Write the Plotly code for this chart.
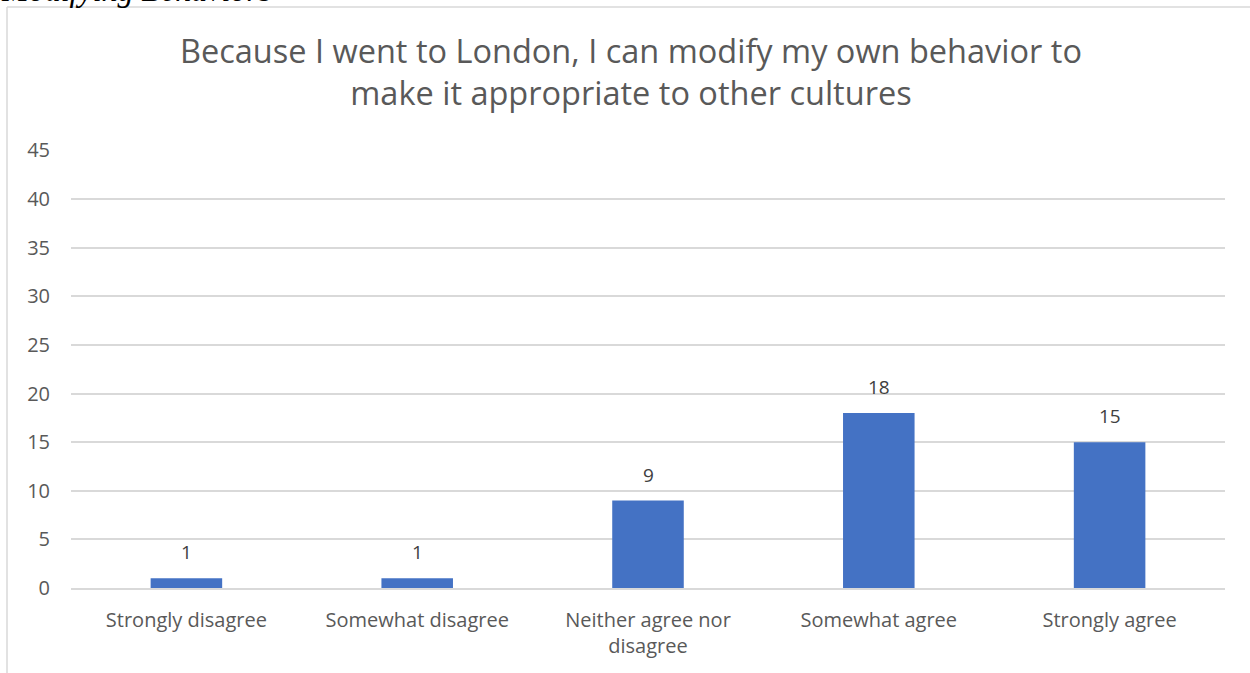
import plotly.graph_objects as go

categories = ["Strongly disagree", "Somewhat disagree", "Neither agree nor<br>disagree",
              "Somewhat agree", "Strongly agree"]
counts = [1, 1, 9, 18, 15]
y_ticks = [0, 5, 10, 15, 20, 25, 30, 35, 40, 45]

title_text = ("Because I went to London, I can modify my own behavior to<br>"
              "make it appropriate to other cultures")

W, H = 1250, 673
L, R, T, B = 71, 25, 150, 85
pw, ph = W - L - R, H - T - B

GREY = "#595959"
FONT = "Open Sans"


def px_x(p):
    return (p - L) / pw


def px_y(p):
    return (H - B - p) / ph


fig = go.Figure(go.Bar(
    x=categories, y=counts,
    marker=dict(color="#4472C4", line=dict(width=0)),
    width=0.31,
    hoverinfo="x+y",
))

# value labels above each bar
value_labels = [
    dict(x=c, y=v, text=str(v), xref="x", yref="y", showarrow=False,
         yanchor="bottom", yshift=11,
         font=dict(family=FONT, size=19, color="#404040"))
    for c, v in zip(categories, counts)
]

fig.update_layout(
    width=W, height=H,
    margin=dict(l=L, r=R, t=T, b=B),
    paper_bgcolor="white", plot_bgcolor="white",
    showlegend=False,
    xaxis=dict(showgrid=False, showline=True, linecolor="#d9d9d9", linewidth=1.5,
               ticks="", tickfont=dict(family=FONT, size=20, color=GREY),
               ticklabelstandoff=13),
    yaxis=dict(range=[0, 45.05], tickvals=y_ticks, showgrid=True, gridcolor="#d9d9d9",
               gridwidth=1.5, zeroline=False, showline=False, ticks="",
               tickfont=dict(family=FONT, size=20, color=GREY),
               ticklabelstandoff=20),
    bargap=0.69,
    shapes=[
        dict(type="line", xref="paper", yref="paper", x0=px_x(7), x1=px_x(1260),
             y0=px_y(7), y1=px_y(7), line=dict(color="#d9d9d9", width=1.5)),
        dict(type="line", xref="paper", yref="paper", x0=px_x(7), x1=px_x(7),
             y0=px_y(7), y1=px_y(690), line=dict(color="#d9d9d9", width=1.5)),
    ],
    annotations=value_labels + [
        dict(text=title_text, xref="paper", yref="paper",
             x=px_x(631), y=px_y(26), xanchor="center", yanchor="top", showarrow=False,
             font=dict(family=FONT, size=32.5, color=GREY)),
        dict(text="<i>Modifying Behaviors</i>", xref="paper", yref="paper",
             x=px_x(273), y=px_y(10), xanchor="right", yanchor="bottom", showarrow=False,
             font=dict(family="Liberation Serif", size=32, color="black")),
    ],
)

fig.write_html("out.html")
